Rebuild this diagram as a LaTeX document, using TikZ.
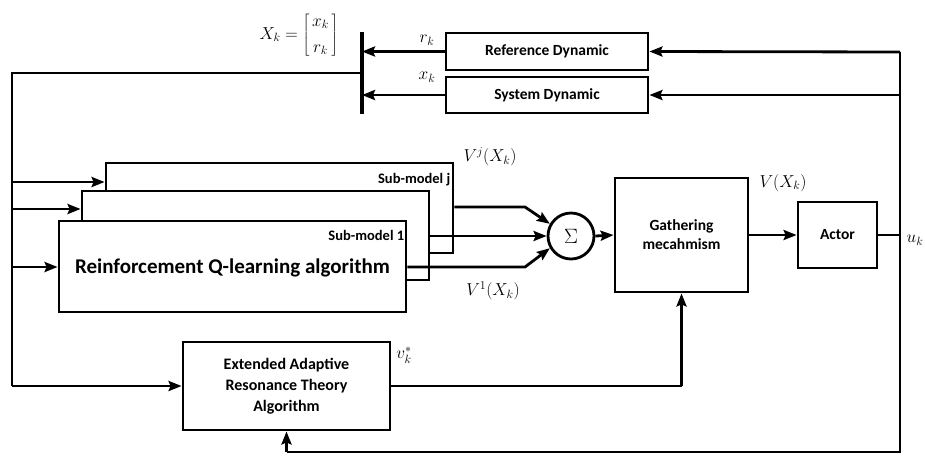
\documentclass[tikz,border=0pt]{standalone}
\usepackage{fontspec}
\setmainfont{Carlito}
\usetikzlibrary{arrows.meta,calc}
\begin{document}
\begin{tikzpicture}[x=1pt,y=-1pt,
  wire/.style={line width=2.8pt},
  arr/.style={wire,-{Stealth[length=13pt,width=10pt,inset=2pt]}},
  blk/.style={draw,line width=2.8pt,fill=white,inner sep=0pt,
    font=\fontsize{15.5}{19}\selectfont\bfseries,align=center},
  tag/.style={inner sep=0pt,anchor=east,font=\fontsize{14.5}{16}\selectfont\bfseries},
  lbl/.style={inner sep=0pt,font=\fontsize{18}{20}\selectfont}]
\useasboundingbox (0,0) rectangle (925,456);

% dynamics blocks at the top
\node[blk,minimum width=202pt,minimum height=37pt] (refdyn) at (547,51.5) {Reference Dynamic};
\node[blk,minimum width=202pt,minimum height=36pt] (sysdyn) at (547,95) {System Dynamic};

% stacked sub-models
\node[blk,minimum width=347pt,minimum height=90pt] (subj) at (279.5,208) {};
\node[blk,minimum width=347pt,minimum height=89pt] (sub2) at (255.5,235.5) {};
\node[blk,minimum width=347pt,minimum height=91pt] (sub1) at (232.5,266.5) {};
\node[tag] at ($(subj.north east)+(-4,18)$) {Sub-model j};
\node[tag] at ($(sub1.north east)+(-3,16)$) {Sub-model 1};
\node[inner sep=0pt,font=\fontsize{21}{23}\selectfont\bfseries] at ($(sub1.center)+(0,1)$) {Reinforcement Q-learning algorithm};

% summation, gathering, actor, EART
\node[draw,circle,line width=2.8pt,minimum size=46pt,inner sep=0pt,font=\fontsize{20}{22}\selectfont] (sum) at (571,236) {$\Sigma$};
\node[blk,minimum width=133pt,minimum height=114pt] (gather) at (681.5,235) {Gathering\\mecahmism};
\node[blk,minimum width=79pt,minimum height=66pt] (actor) at (837.5,235) {Actor};
\node[blk,minimum width=207pt,minimum height=88pt,font=\fontsize{16}{21}\selectfont\bfseries] (eart) at (286.5,386) {Extended Adaptive\\Resonance Theory\\Algorithm};

% state vector bar
\coordinate (bartop) at (362,32);
\coordinate (barbot) at (362,114);
\draw[line width=4.5pt] (bartop) -- (barbot);
\coordinate (barout) at (362,73);
\coordinate (lefttop) at (12,73);
\coordinate (leftbot) at (12,386);

% right feedback column
\coordinate (rtop) at (900,52);
\coordinate (rbot) at (900,452);

% wires
\draw[arr] (refdyn.west) -- (refdyn.west -| bartop);
\draw[arr] (sysdyn.west) -- (sysdyn.west -| bartop);
\draw[wire] (barout) -- (lefttop) -- (leftbot);
\draw[arr] (leftbot) -- (eart.west);
\draw[arr] (12,182) -- (subj.west |- 0,182);
\draw[arr] (12,209) -- (sub2.west |- 0,209);
\draw[arr] (12,267) -- (sub1.west |- 0,267);

\coordinate (kj) at (525,207);
\coordinate (k1) at (525,267);
\draw[arr] (subj.east |- kj) -- (kj) -- (sum.150);
\draw[arr] (sub2.east |- sum.west) -- (sum.west);
\draw[arr] (sub1.east |- k1) -- (k1) -- (sum.210);
\draw[arr] (sum.east) -- (gather.west);
\draw[arr] (gather.east) -- (actor.west);
\draw[wire] (actor.east) -- (actor.east -| rtop);
\draw[wire] (rtop) -- (rbot) -- (eart.south |- rbot);
\draw[arr] (eart.south |- rbot) -- (eart.south);
\draw[arr] (rtop) -- (refdyn.east);
\draw[arr] (sysdyn.east -| rtop) -- (sysdyn.east);
\draw[wire] (eart.east) -- (gather.south |- eart.east);
\draw[arr] (gather.south |- eart.east) -- (gather.south);

% signal labels
\node[lbl] at (299,35) {$X_k=\left[\begin{array}{@{\,}c@{\,}}x_k\\[6pt] r_k\end{array}\right]$};
\node[lbl] at (427,40) {$r_k$};
\node[lbl] at (427,77) {$x_k$};
\node[lbl] at (490,157) {$V^j(X_k)$};
\node[lbl] at (493,291) {$V^1(X_k)$};
\node[lbl] at (783,183) {$V(X_k)$};
\node[lbl] at (915,240) {$u_k$};
\node[lbl] at (404,355) {$v_k^*$};
\end{tikzpicture}
\end{document}
